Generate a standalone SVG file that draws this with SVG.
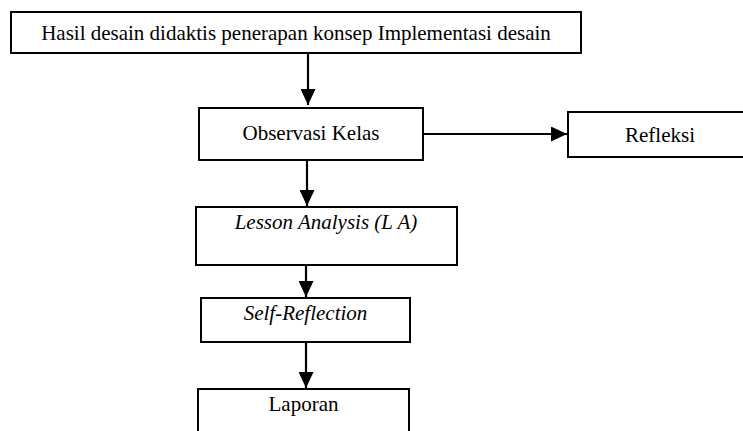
<svg xmlns="http://www.w3.org/2000/svg" width="743" height="431" viewBox="0 0 743 431">
<style>
.box{fill:#fff;stroke:#000;stroke-width:2}
.t{font-family:"Liberation Serif","Times New Roman",serif;font-size:21px;fill:#000;text-anchor:middle}
.i{font-style:italic}
.c{stroke:#000;stroke-width:2.2;fill:none}
</style>
<defs>
<marker id="ah" viewBox="0 0 16 15" refX="16" refY="7.5" markerWidth="16" markerHeight="15" markerUnits="userSpaceOnUse" orient="auto">
<path d="M0,0 L16,7.5 L0,15 z" fill="#000"/>
</marker>
</defs>
<rect width="743" height="431" fill="#fff"/>
<g id="connectors">
<line class="c" x1="308" y1="53" x2="308" y2="105" marker-end="url(#ah)"/>
<line class="c" x1="423" y1="134" x2="567" y2="134" marker-end="url(#ah)"/>
<line class="c" x1="307" y1="160" x2="307" y2="206" marker-end="url(#ah)"/>
<line class="c" x1="306" y1="265" x2="306" y2="297" marker-end="url(#ah)"/>
<line class="c" x1="306" y1="342" x2="306" y2="388" marker-end="url(#ah)"/>
</g>
<g id="hasil">
<rect class="box" x="11" y="12" width="570" height="41"/>
<text class="t" x="296" y="40">Hasil desain didaktis penerapan konsep Implementasi desain</text>
</g>
<g id="observasi">
<rect class="box" x="199" y="108" width="224" height="52"/>
<text class="t" x="311" y="140">Observasi Kelas</text>
</g>
<g id="refleksi">
<rect class="box" x="568" y="112" width="180" height="45"/>
<text class="t" x="660" y="142">Refleksi</text>
</g>
<g id="lesson">
<rect class="box" x="196" y="207" width="261" height="58"/>
<text class="t i" x="326" y="229">Lesson Analysis (L A)</text>
</g>
<g id="self">
<rect class="box" x="201" y="298" width="209" height="44"/>
<text class="t i" x="305.5" y="320">Self-Reflection</text>
</g>
<g id="laporan">
<rect class="box" x="198" y="389" width="211" height="50"/>
<text class="t" x="303.5" y="411">Laporan</text>
</g>
</svg>
